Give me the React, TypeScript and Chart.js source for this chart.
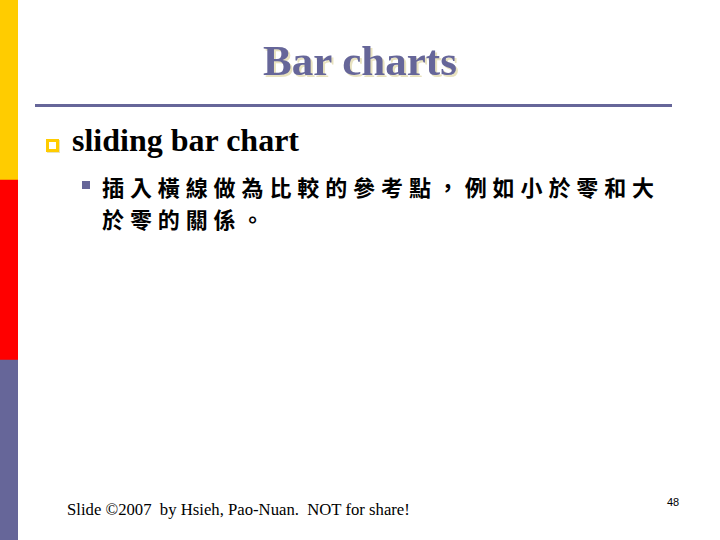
import { useEffect, useRef } from "react";
import { Chart, registerables } from "chart.js";

Chart.register(...registerables);

// left colour strip of the slide, bottom to top (slide is 540 tall)
const stripNames = ["bottom", "middle", "top"];
const stripValues = [180, 180, 180];
const stripColors = ["#666699", "#FF0000", "#FFCC00"];

const titleText = "Bar charts";
const bulletText = "sliding bar chart";
const subLines = ["插入橫線做為比較的參考點，例如小於零和大", "於零的關係。"];
const footerText = "Slide ©2007  by Hsieh, Pao-Nuan.  NOT for share!";
const pageNumber = "48";

const SideStrip = () => {
  const canvasRef = useRef<HTMLCanvasElement | null>(null);
  const chartRef = useRef<Chart | null>(null);

  useEffect(() => {
    if (!canvasRef.current) return;
    if (chartRef.current) chartRef.current.destroy();

    chartRef.current = new Chart(canvasRef.current, {
      type: "bar",
      data: {
        labels: ["strip"],
        datasets: stripNames.map((name, i) => ({
          label: name,
          data: [stripValues[i]],
          backgroundColor: stripColors[i],
          borderWidth: 0,
          categoryPercentage: 1,
          barPercentage: 1,
        })),
      },
      options: {
        responsive: false,
        animation: false,
        layout: { padding: 0 },
        plugins: { legend: { display: false }, tooltip: { enabled: false } },
        scales: {
          x: { display: false, stacked: true },
          y: { display: false, stacked: true, min: 0, max: 540 },
        },
      },
    });

    return () => {
      if (chartRef.current) {
        chartRef.current.destroy();
        chartRef.current = null;
      }
    };
  }, []);

  return (
    <canvas
      ref={canvasRef}
      width={18}
      height={540}
      style={{ position: "absolute", left: 0, top: 0, width: 18, height: 540 }}
    />
  );
};

export default function App() {
  const serif = '"Liberation Serif", "Times New Roman", serif';
  return (
    <div
      style={{
        position: "absolute",
        left: 0,
        top: 0,
        width: 720,
        height: 540,
        background: "#fff",
        overflow: "hidden",
      }}
    >
      <SideStrip />

      <div
        style={{
          position: "absolute",
          left: 0,
          width: 720,
          top: 36,
          textAlign: "center",
          fontFamily: serif,
          fontWeight: "bold",
          fontSize: 43,
          color: "#666699",
          textShadow: "2px 2px 0 #e8e2bf",
          lineHeight: "50px",
        }}
      >
        {titleText}
      </div>

      <div
        style={{
          position: "absolute",
          left: 35,
          top: 104,
          width: 637,
          height: 3,
          background: "#666699",
        }}
      />

      {/* first level bullet */}
      <div
        style={{
          position: "absolute",
          left: 46,
          top: 139,
          width: 7,
          height: 7,
          border: "3px solid #FFCC00",
          background: "#fff",
          boxShadow: "1px 1px 0 #e8e2bf",
        }}
      />
      <div
        style={{
          position: "absolute",
          left: 72,
          top: 121,
          fontFamily: serif,
          fontWeight: "bold",
          fontSize: 32,
          lineHeight: "38px",
          color: "#000",
          whiteSpace: "nowrap",
        }}
      >
        {bulletText}
      </div>

      {/* second level bullet */}
      <div
        style={{
          position: "absolute",
          left: 82,
          top: 181,
          width: 8,
          height: 8,
          background: "#666699",
        }}
      />
      {subLines.map((line, i) => (
        <div
          key={line}
          style={{
            position: "absolute",
            left: 102,
            top: 170 + i * 32,
            fontFamily: '"Noto Sans CJK TC", sans-serif',
            fontWeight: 700,
            fontSize: 22,
            letterSpacing: 5.9,
            lineHeight: "32px",
            color: "#000",
            whiteSpace: "nowrap",
          }}
        >
          {line}
        </div>
      ))}

      <div
        style={{
          position: "absolute",
          left: 67,
          top: 500,
          fontFamily: serif,
          fontSize: 16.7,
          lineHeight: "20px",
          color: "#000",
          whiteSpace: "pre",
        }}
      >
        {footerText}
      </div>

      <div
        style={{
          position: "absolute",
          left: 667,
          top: 495,
          fontFamily: '"Liberation Sans", Arial, sans-serif',
          fontSize: 11,
          lineHeight: "14px",
          color: "#000",
        }}
      >
        {pageNumber}
      </div>
    </div>
  );
}
